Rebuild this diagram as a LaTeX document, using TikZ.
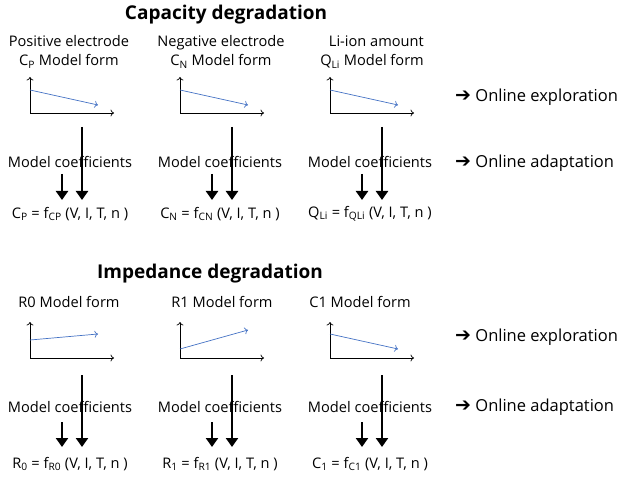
\documentclass[tikz,border=0pt]{standalone}
\usepackage{fontspec}
\setmainfont{Open Sans}
\newfontfamily\symfont{DejaVu Sans}
\usetikzlibrary{arrows.meta}
\definecolor{lineblue}{RGB}{68,114,196}
\tikzset{
  lbl/.style={font=\fontsize{14.6}{19}\selectfont, align=center, inner sep=0pt},
  ttl/.style={font=\fontsize{19}{22}\selectfont\bfseries, inner sep=0pt},
  side/.style={font=\fontsize{16.5}{19}\selectfont, anchor=west, inner sep=0pt},
  axis/.style={line width=0.7pt, -{To[length=3.5pt,width=7pt]}},
  trend/.style={lineblue, line width=0.7pt, -{To[length=3.5pt,width=7pt]}},
  flow/.style={line width=2.6pt, -{Triangle[width=12pt,length=9pt]}}
}
\newcommand{\toarrow}{{\symfont\fontsize{19}{19}\selectfont\bfseries ➔}}

\begin{document}
\begin{tikzpicture}[x=1pt,y=-1pt]
\useasboundingbox (0,0) rectangle (621,478);

% capacity degradation
\node[ttl] (capttl) at (226,15) {Capacity degradation};
\node[lbl] (formP) at (69,52) {Positive electrode\\C\textsubscript{P} Model form};
\node[lbl] (formN) at (221,52) {Negative electrode\\C\textsubscript{N} Model form};
\node[lbl,align=right,anchor=east] (formQ) at (424,52) {Li-ion amount\\Q\textsubscript{Li} Model form};

\foreach \n/\x/\eq in {P/30/{C\textsubscript{P} = f\textsubscript{CP} (V, I, T, n )},
                       N/180/{C\textsubscript{N} = f\textsubscript{CN} (V, I, T, n )},
                       Q/330/{Q\textsubscript{Li} = f\textsubscript{QLi} (V, I, T, n )}}
{
  \coordinate (o\n) at (\x,113);
  \draw[axis] (o\n) -- ++(0,-36);
  \draw[axis] (o\n) -- ++(84,0);
  \draw[trend] (\x,90) -- (\x+68,105);
  \coordinate (s\n) at (\x+52,127);
  \coordinate (t\n) at (\x+32,174);
  \draw[flow] (s\n) -- (\x+52,200);
  \node[lbl] (coef\n) at (\x+40,162) {Model coefficients};
  \node[lbl] (eq\n) at (\x+40,214) {\eq};
  \draw[flow] (t\n) -- (\x+32,200);
}

\node[side] (explC) at (455,97) {\toarrow\ Online exploration};
\node[side] (adptC) at (455,163) {\toarrow\ Online adaptation};

% impedance degradation
\node[ttl] (impttl) at (210,274) {Impedance degradation};
\node[lbl] (formR) at (69,302) {R0 Model form};
\node[lbl] (formS) at (222,302) {R1 Model form};
\node[lbl] (formC) at (360,302) {C1 Model form};

\foreach \n/\x/\ya/\yb/\eq in {R/30/340/334/{R\textsubscript{0} = f\textsubscript{R0} (V, I, T, n )},
                               S/180/349/330/{R\textsubscript{1} = f\textsubscript{R1} (V, I, T, n )},
                               C/330/334/349/{C\textsubscript{1} = f\textsubscript{C1} (V, I, T, n )}}
{
  \coordinate (o\n) at (\x,358);
  \draw[axis] (o\n) -- ++(0,-36);
  \draw[axis] (o\n) -- ++(84,0);
  \draw[trend] (\x,\ya) -- (\x+68,\yb);
  \coordinate (s\n) at (\x+52,375);
  \coordinate (t\n) at (\x+32,422);
  \draw[flow] (s\n) -- (\x+52,447);
  \node[lbl] (coef\n) at (\x+40,407) {Model coefficients};
  \node[lbl] (eq\n) at (\x+40,464) {\eq};
  \draw[flow] (t\n) -- (\x+32,447);
}

\node[side] (explI) at (455,337) {\toarrow\ Online exploration};
\node[side] (adptI) at (455,407) {\toarrow\ Online adaptation};

\end{tikzpicture}
\end{document}
